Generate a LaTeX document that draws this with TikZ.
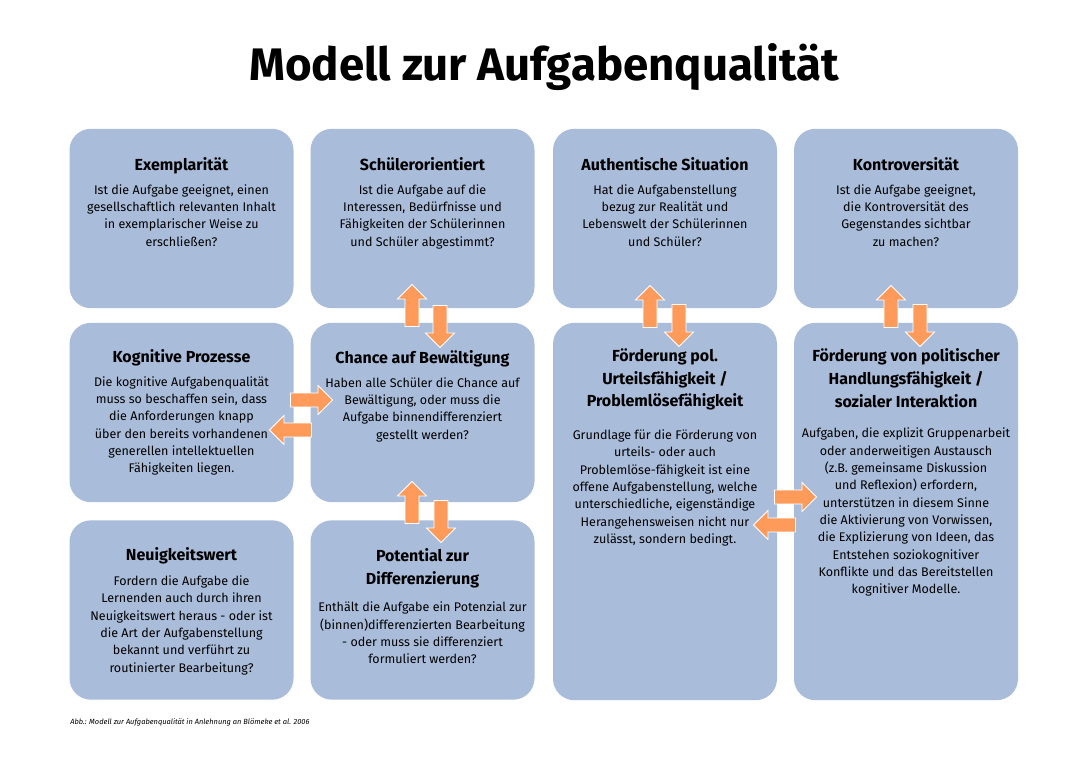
\documentclass[tikz,border=0pt]{standalone}
\usepackage{fontspec}
\setmainfont{Fira Sans}
\usetikzlibrary{positioning,shapes.arrows}
\definecolor{cardblue}{HTML}{A9BCDA}
\definecolor{floworange}{HTML}{FF9B5A}

\begin{document}
\begin{tikzpicture}[
  x=0.75pt, y=-0.75pt,
  card/.style={fill=cardblue, rounded corners=16pt, minimum width=168pt, minimum height=134.5pt, inner sep=0pt},
  tallcard/.style={card, minimum height=283pt},
  head/.style={font=\fontsize{12}{16.9}\selectfont\bfseries, align=center, inner sep=0pt,
    execute at begin node=\strut, execute at end node=\strut},
  body/.style={font=\fontsize{9.4}{13}\selectfont, align=center, inner sep=0pt,
    execute at begin node=\strut, execute at end node=\strut},
  flow/.style={single arrow, fill=floworange, draw=white, line width=0.6pt, inner sep=4.9pt,
    minimum height=31.5pt, single arrow head extend=5.6pt}
]
\useasboundingbox (0,0) rectangle (1088,768);

\node[font=\fontsize{34.2}{38}\selectfont\bfseries] (title) at (544,67) {Modell zur Aufgabenqualität};

% cards
\node[card] (exBox) at (181.5,218.5) {};
\node[card] (soBox) at (422.5,218.5) {};
\node[card] (auBox) at (665,218.5) {};
\node[card] (koBox) at (906,218.5) {};
\node[card] (kpBox) at (181.5,412.5) {};
\node[card] (chBox) at (422.5,412.5) {};
\node[tallcard] (ufBox) at (665,511.5) {};
\node[tallcard] (hfBox) at (906,511.5) {};
\node[card] (nwBox) at (181.5,610) {};
\node[card] (pdBox) at (422.5,610) {};

% texts
\node[head, anchor=north] (exHead) at ([yshift=-19.7pt]exBox.north) {Exemplarität};
\node[body, below=4.6pt of exHead] (exText) {Ist die Aufgabe geeignet, einen\\gesellschaftlich relevanten Inhalt\\in exemplarischer Weise zu\\erschließen?};

\node[head, anchor=north] (soHead) at ([yshift=-19.7pt]soBox.north) {Schülerorientiert};
\node[body, below=4.6pt of soHead] (soText) {Ist die Aufgabe auf die\\Interessen, Bedürfnisse und\\Fähigkeiten der Schülerinnen\\und Schüler abgestimmt?};

\node[head, anchor=north] (auHead) at ([yshift=-19.7pt]auBox.north) {Authentische Situation};
\node[body, below=4.6pt of auHead] (auText) {Hat die Aufgabenstellung\\bezug zur Realität und\\Lebenswelt der Schülerinnen\\und Schüler?};

\node[head, anchor=north] (koHead) at ([yshift=-19.7pt]koBox.north) {Kontroversität};
\node[body, below=4.6pt of koHead] (koText) {Ist die Aufgabe geeignet,\\die Kontroversität des\\Gegenstandes sichtbar\\zu machen?};

\node[head, anchor=north] (kpHead) at ([yshift=-18.2pt]kpBox.north) {Kognitive Prozesse};
\node[body, below=4.6pt of kpHead] (kpText) {Die kognitive Aufgabenqualität\\muss so beschaffen sein, dass\\die Anforderungen knapp\\über den bereits vorhandenen\\generellen intellektuellen\\Fähigkeiten liegen.};

\node[head, anchor=north] (chHead) at ([yshift=-19pt]chBox.north) {Chance auf Bewältigung};
\node[body, below=4.6pt of chHead] (chText) {Haben alle Schüler die Chance auf\\Bewältigung, oder muss die\\Aufgabe binnendifferenziert\\gestellt werden?};

\node[head, anchor=north] (ufHead) at ([yshift=-19.6pt]ufBox.north) {Förderung pol.\\Urteilsfähigkeit /\\Problemlösefähigkeit};
\node[body, below=11.8pt of ufHead] (ufText) {Grundlage für die Förderung von\\urteils- oder auch\\Problemlöse-fähigkeit ist eine\\offene Aufgabenstellung, welche\\unterschiedliche, eigenständige\\Herangehensweisen nicht nur\\zulässt, sondern bedingt.};

\node[head, anchor=north] (hfHead) at ([yshift=-19.6pt]hfBox.north) {Förderung von politischer\\Handlungsfähigkeit /\\sozialer Interaktion};
\node[body, below=10.2pt of hfHead] (hfText) {Aufgaben, die explizit Gruppenarbeit\\oder anderweitigen Austausch\\(z.B. gemeinsame Diskussion\\und Reflexion) erfordern,\\unterstützen in diesem Sinne\\die Aktivierung von Vorwissen,\\die Explizierung von Ideen, das\\Entstehen soziokognitiver\\Konflikte und das Bereitstellen\\kognitiver Modelle.};

\node[head, anchor=north] (nwHead) at ([yshift=-18.2pt]nwBox.north) {Neuigkeitswert};
\node[body, below=6pt of nwHead] (nwText) {Fordern die Aufgabe die\\Lernenden auch durch ihren\\Neuigkeitswert heraus - oder ist\\die Art der Aufgabenstellung\\bekannt und verführt zu\\routinierter Bearbeitung?};

\node[head, anchor=north] (pdHead) at ([yshift=-21.2pt]pdBox.north) {Potential zur\\Differenzierung};
\node[body, below=7.9pt of pdHead] (pdText) {Enthält die Aufgabe ein Potenzial zur\\(binnen)differenzierten Bearbeitung\\- oder muss sie differenziert\\formuliert werden?};

% arrows
\node[flow, rotate=90] (soUp) at (412,309) {};
\node[flow, rotate=-90] (soDown) at (440,323) {};
\node[flow, rotate=90] (pdUp) at (412,506) {};
\node[flow, rotate=-90] (pdDown) at (441,518) {};
\node[flow, rotate=90] (auUp) at (650,310) {};
\node[flow, rotate=-90] (auDown) at (679,322) {};
\node[flow, rotate=90] (koUp) at (891,310) {};
\node[flow, rotate=-90] (koDown) at (920,322) {};
\node[flow] (kpRight) at (308,400) {};
\node[flow, rotate=180] (kpLeft) at (294,430) {};
\node[flow] (ufRight) at (792,497) {};
\node[flow, rotate=180] (ufLeft) at (778,525) {};

\node[anchor=west, inner sep=0pt, font=\fontsize{5.6}{7}\selectfont\itshape] (caption) at (70,722) {Abb.: Modell zur Aufgabenqualität in Anlehnung an Blömeke et al. 2006};
\end{tikzpicture}
\end{document}
